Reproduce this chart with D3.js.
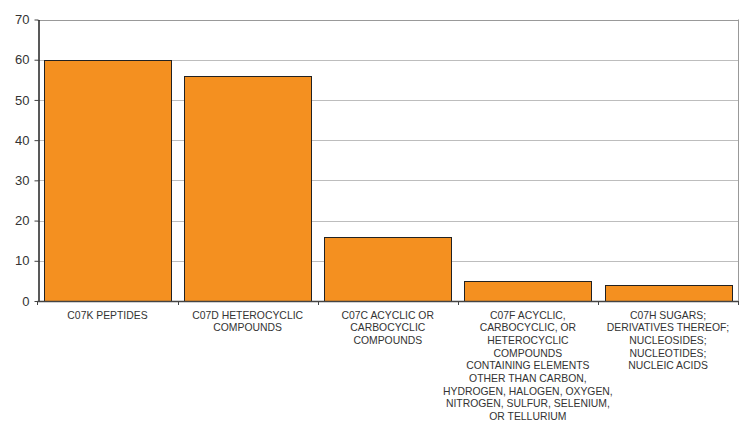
<!DOCTYPE html>
<html>
<head>
<meta charset="utf-8">
<script src="https://cdn.jsdelivr.net/npm/d3@7"></script>
<style>
  body { margin: 0; background: #fff; }
  svg { display: block; font-family: Arial, "Liberation Sans", sans-serif; }
</style>
</head>
<body>
<svg width="745" height="422"></svg>
<script>
// categories and counts
const categories = [
  "C07K PEPTIDES",
  "C07D HETEROCYCLIC COMPOUNDS",
  "C07C ACYCLIC OR CARBOCYCLIC COMPOUNDS",
  "C07F ACYCLIC, CARBOCYCLIC, OR HETEROCYCLIC COMPOUNDS CONTAINING ELEMENTS OTHER THAN CARBON, HYDROGEN, HALOGEN, OXYGEN, NITROGEN, SULFUR, SELENIUM, OR TELLURIUM",
  "C07H SUGARS; DERIVATIVES THEREOF; NUCLEOSIDES; NUCLEOTIDES; NUCLEIC ACIDS"
];
const counts = [60, 56, 16, 5, 4];
// label line breaks as they appear in the picture
const labelLines = [
  ["C07K PEPTIDES"],
  ["C07D HETEROCYCLIC", "COMPOUNDS"],
  ["C07C ACYCLIC OR", "CARBOCYCLIC", "COMPOUNDS"],
  ["C07F ACYCLIC,", "CARBOCYCLIC, OR", "HETEROCYCLIC", "COMPOUNDS", "CONTAINING ELEMENTS", "OTHER THAN CARBON,", "HYDROGEN, HALOGEN, OXYGEN,", "NITROGEN, SULFUR, SELENIUM,", "OR TELLURIUM"],
  ["C07H SUGARS;", "DERIVATIVES THEREOF;", "NUCLEOSIDES;", "NUCLEOTIDES;", "NUCLEIC ACIDS"]
];
const yTicks = [0, 10, 20, 30, 40, 50, 60, 70];

const svg = d3.select("svg");
const margin = {left: 37.5, right: 7, top: 19.5, bottom: 121};
const width = 745, height = 422;

const x = d3.scaleBand()
  .domain(categories)
  .range([margin.left, width - margin.right])
  .paddingInner(0.095)
  .paddingOuter(0.047);

const y = d3.scaleLinear()
  .domain([0, 70])
  .range([height - margin.bottom, margin.top]);

// gridlines
svg.append("g")
  .selectAll("line")
  .data(yTicks.filter(d => d > 0))
  .enter().append("line")
  .attr("x1", margin.left)
  .attr("x2", width - margin.right)
  .attr("y1", d => Math.round(y(d)) + 0.5)
  .attr("y2", d => Math.round(y(d)) + 0.5)
  .attr("stroke", d => d == 70 ? "#999" : "#bdbdbd")
  .attr("stroke-width", 1);

// right border
svg.append("line")
  .attr("x1", width - margin.right + 0.5)
  .attr("x2", width - margin.right + 0.5)
  .attr("y1", y(70))
  .attr("y2", y(0))
  .attr("stroke", "#999");

// bars
svg.append("g")
  .selectAll("rect")
  .data(categories)
  .enter().append("rect")
  .attr("x", d => Math.round(x(d)) + 0.5)
  .attr("y", (d, i) => Math.round(y(counts[i])) + 0.5)
  .attr("width", Math.round(x.bandwidth()))
  .attr("height", (d, i) => Math.round(y(0)) - Math.round(y(counts[i])))
  .attr("fill", "#f49020")
  .attr("stroke", "#222")
  .attr("stroke-width", 1);

// y axis
const yAxis = svg.append("g")
  .attr("transform", "translate(" + (Math.round(margin.left) + 0.5) + ",0)")
  .call(d3.axisLeft(y).tickValues(yTicks).tickSize(4).tickPadding(5).tickSizeOuter(0));
yAxis.select(".domain").attr("stroke", "#222").attr("stroke-width", 1.5);
yAxis.selectAll(".tick line").attr("stroke", "#444");
yAxis.selectAll("text")
  .attr("font-size", 13)
  .attr("fill", "#333")
  .attr("font-family", "Arial, 'Liberation Sans', sans-serif");

// x axis
const bandEdges = categories.map(d => x(d) - x.step() * x.paddingInner() / 2);
bandEdges.push(width - margin.right);
const xAxis = svg.append("g");
xAxis.append("line")
  .attr("x1", margin.left)
  .attr("x2", width - margin.right)
  .attr("y1", Math.round(y(0)) + 0.5)
  .attr("y2", Math.round(y(0)) + 0.5)
  .attr("stroke", "#444")
  .attr("stroke-width", 1.5);
xAxis.selectAll(".sep")
  .data(bandEdges)
  .enter().append("line")
  .attr("class", "sep")
  .attr("x1", d => Math.round(d) + 0.5)
  .attr("x2", d => Math.round(d) + 0.5)
  .attr("y1", y(0))
  .attr("y2", y(0) + 4)
  .attr("stroke", "#444");

// category labels
const labels = svg.append("g")
  .selectAll("text")
  .data(categories)
  .enter().append("text")
  .attr("text-anchor", "middle")
  .attr("font-size", 10.4)
  .attr("fill", "#333");

labels.each(function (d, i) {
  const t = d3.select(this);
  labelLines[i].forEach((line, j) => {
    t.append("tspan")
      .attr("x", x(d) + x.bandwidth() / 2)
      .attr("y", y(0) + 17.5 + j * 12.7)
      .text(line);
  });
});
</script>
</body>
</html>
